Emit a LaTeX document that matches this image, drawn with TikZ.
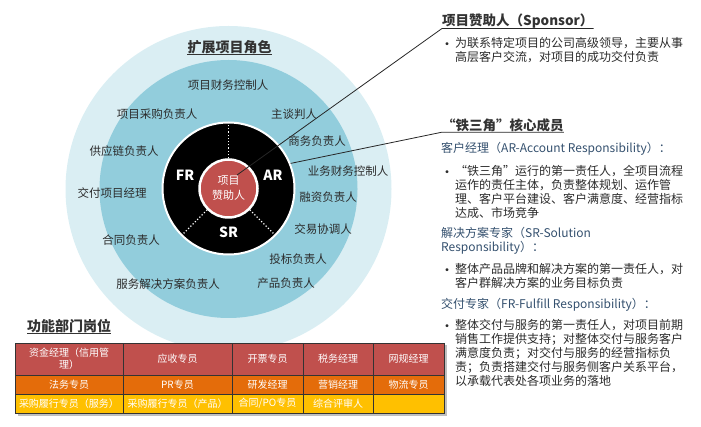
\documentclass[tikz,border=0pt]{standalone}
\usepackage{fontspec}
\setmainfont{Noto Sans CJK SC}
\usetikzlibrary{positioning}
\definecolor{ringlight}{HTML}{DAEEF3}
\definecolor{ringmid}{HTML}{92CDDC}
\definecolor{sponsorred}{HTML}{C0504D}
\definecolor{roworange}{HTML}{E46C0A}
\definecolor{rowyellow}{HTML}{FFC000}
\definecolor{inktext}{HTML}{2B2B2B}
\definecolor{inkhead}{HTML}{34506E}
\begin{document}
\begin{tikzpicture}[x=1pt, y=-1pt,
    role/.style={font=\fontsize{11.5}{13}\selectfont, text=inktext, inner sep=0pt},
    tri/.style={font=\bfseries\fontsize{14}{14}\selectfont, text=white, inner sep=0pt},
    headtitle/.style={font=\bfseries\fontsize{13.5}{15}\selectfont, text=black!80, inner sep=0pt},
    para/.style={font=\fontsize{12}{14}\selectfont, text=inktext, align=left, anchor=north west, inner sep=0pt},
    subhead/.style={para, text=inkhead},
    bul/.style={font=\fontsize{14}{14}\selectfont, text=inktext, inner sep=0pt},
    leader/.style={draw=black!85, line width=0.8pt},
    cell/.style={draw=black!80, line width=0.8pt, text=white, align=center, inner sep=0pt,
                 font=\fontsize{10}{12}\selectfont}]
  \useasboundingbox (0,0) rectangle (701,427);

  % ringen rond de sponsor
  \fill[ringlight] (228.5,189) circle (163pt);
  \fill[ringmid] (228.5,189) circle (129pt);
  \node[circle, fill=black, draw=white, line width=2pt, minimum size=132pt, inner sep=0pt] (ring) at (228.5,188.5) {};
  \node[circle, fill=sponsorred, draw=white, line width=2.5pt, minimum size=58pt, inner sep=0pt,
        text=white, align=center, font=\fontsize{11}{15}\selectfont] (core) at (228.5,188.5) {项目\\赞助人};

  % scheidingen in de zwarte ring
  \draw[white, dotted, line width=1.2pt] (core.90) -- (ring.90);
  \draw[white, dotted, line width=1.2pt] (core.225) -- (ring.225);
  \draw[white, dotted, line width=1.2pt] (core.315) -- (ring.315);

  \node[tri] (fr) at (185,175) {FR};
  \node[tri] (ar) at (273,175) {AR};
  \node[tri] (sr) at (228.5,232) {SR};

  % titel en rollen in de blauwe ring
  \node[headtitle, font=\bfseries\fontsize{14}{15}\selectfont] (ctitle) at (229.5,47) {扩展项目角色};
  \draw[black!80, line width=0.8pt] (ctitle.south west) -- (ctitle.south east);

  \foreach \name/\x/\y/\txt in {fin/228/85/项目财务控制人, buy/157/114/项目采购负责人,
      neg/294/114/主谈判人, sup/124/151/供应链负责人, biz/317/141/商务负责人,
      bfc/348/171/业务财务控制人, dpm/112/193/交付项目经理, fnd/328/197/融资负责人,
      deal/323/229/交易协调人, ctr/131/240/合同负责人, bid/298/259/投标负责人,
      svc/168/284/服务解决方案负责人, prd/286/283/产品负责人}
    \node[role] (\name) at (\x,\y) {\txt};

  % rechterkolom: sponsor
  \node[headtitle, anchor=base west] (spon) at (442,25.5) {项目赞助人（Sponsor）};
  \node[bul] (sponb) at (447,46) {•};
  \node[para] (spont) at (455,37.5) {为联系特定项目的公司高级领导，主要从事\\高层客户交流，对项目的成功交付负责};

  % rechterkolom: ijzeren driehoek
  \node[headtitle, anchor=base west] (iron) at (442,130.5) {“铁三角”核心成员};
  \node[subhead] (arh) at (441,142.5) {客户经理（AR-Account Responsibility）：};
  \node[bul] (arb) at (447,174) {•};
  \node[para] (art) at (455,165.5) {“铁三角”运行的第一责任人，全项目流程\\运作的责任主体，负责整体规划、运作管\\理、客户平台建设、客户满意度、经营指标\\达成、市场竞争};
  \node[subhead] (srh) at (441,227.5) {解决方案专家（SR-Solution\\Responsibility）：};
  \node[bul] (srb) at (447,272) {•};
  \node[para] (srt) at (455,263.5) {整体产品品牌和解决方案的第一责任人，对\\客户群解决方案的业务目标负责};
  \node[subhead] (frh) at (441,298.5) {交付专家（FR-Fulfill Responsibility）：};
  \node[bul] (frb) at (447,328) {•};
  \node[para] (frt) at (455,319.5) {整体交付与服务的第一责任人，对项目前期\\销售工作提供支持；对整体交付与服务客户\\满意度负责；对交付与服务的经营指标负\\责；负责搭建交付与服务侧客户关系平台，\\以承载代表处各项业务的落地};

  % verbindingslijnen met onderstreping
  \coordinate (spfoot) at (237,175);
  \draw[leader] (spfoot) -- (spon.south west) -- (spon.south east);
  \draw[leader] (ring.22) -- (iron.south west) -- (iron.south east);

  % functionele posities
  \node[headtitle, font=\bfseries\fontsize{14}{15}\selectfont, anchor=base west] (ftitle) at (27,332) {功能部门岗位};
  \draw[black!80, line width=0.8pt] (ftitle.south west) -- (ftitle.south east);

  \fill[black!25] (17.5,345.5) rectangle (446.5,415.5);
  \foreach \name/\x/\w/\txt in {a1/69/108/{资金经理（信用管\\理）}, a2/177.5/109/应收专员,
      a3/267.5/71/开票专员, a4/338/70/税务经理, a5/408.5/71/网规经理}
    \node[cell, fill=sponsorred, minimum width=\w pt, minimum height=32pt] (\name) at (\x,359) {\txt};
  \foreach \name/\x/\w/\txt in {b1/69/108/法务专员, b2/177.5/109/PR专员,
      b3/267.5/71/研发经理, b4/338/70/营销经理, b5/408.5/71/物流专员}
    \node[cell, fill=roworange, minimum width=\w pt, minimum height=19pt] (\name) at (\x,384.5) {\txt};
  \foreach \name/\x/\w/\txt in {c1/69/108/采购履行专员（服务）, c2/177.5/109/采购履行专员（产品）,
      c3/267.5/71/{合同/PO专员}, c4/338/70/综合评审人, c5/408.5/71/{}}
    \node[cell, fill=rowyellow, minimum width=\w pt, minimum height=19pt] (\name) at (\x,403.5) {\txt};
\end{tikzpicture}
\end{document}
